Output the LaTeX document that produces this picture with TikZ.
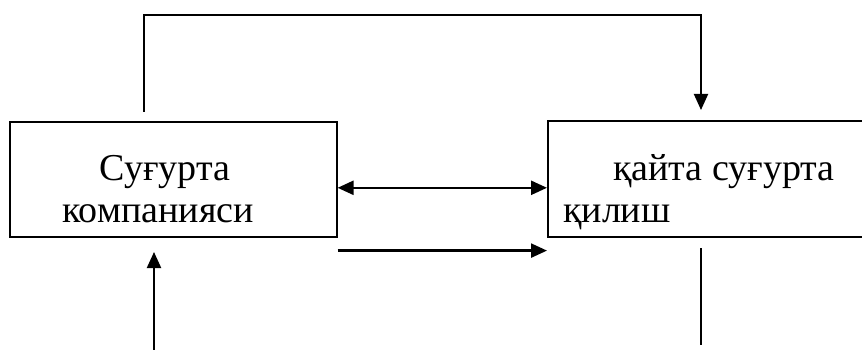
\documentclass[tikz,border=0pt]{standalone}
\usepackage{fontspec}
\setmainfont{Liberation Serif}
\usetikzlibrary{arrows.meta}
\begin{document}
\begin{tikzpicture}[x=1pt, y=-1pt, line join=miter, >={Triangle[length=16pt,width=14pt]},
		box/.style={draw, line width=1.6pt, inner sep=0pt, anchor=north west},
		txt/.style={anchor=base west, inner sep=0pt, font=\fontsize{38pt}{42pt}\selectfont},
		arr/.style={->, line width=2.4pt}]
			\useasboundingbox (0,0) rectangle (862,350);
			% boxes
			\node[box, minimum width=327pt, minimum height=115pt] (lbox) at (9,121) {};
			\node[box, minimum width=330pt, minimum height=116pt] (rbox) at (547,120) {};
			\node[txt, anchor=base] (l1) at (165,180) {Суғурта};
			\node[txt, anchor=base] (l2) at (158,222) {компанияси};
			\node[txt] (r1) at (613,180) {қайта суғурта};
			\node[txt] (r2) at (563,222) {қилиш};
			% free ends
			\coordinate (t1) at (144,112);
			\coordinate (ttop) at (701,15);
			\coordinate (t2) at (701,110);
			\coordinate (in1) at (154,350);
			\coordinate (in2) at (154,252);
			\coordinate (out1) at (701,248);
			\coordinate (out2) at (701,345);
			% connectors
			\draw [arr, line width=1.9pt] (t1) |- (ttop) -- (t2);
			\draw [arr, <->] ([yshift=-8.5pt]lbox.east) -- ([yshift=-9pt]rbox.west);
			\draw [arr] ([yshift=-13pt]lbox.south east) -- ([yshift=-13pt]rbox.south west);
			\draw [arr, line width=2.1pt] (in1) -- (in2);
			\draw [line width=1.9pt] (out1) -- (out2);
		\end{tikzpicture}
\end{document}
